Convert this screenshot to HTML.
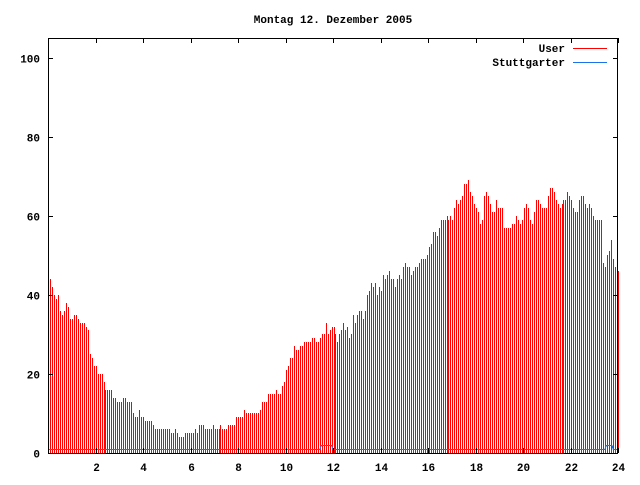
<!DOCTYPE html>
<html><head><meta charset="utf-8"><style>
html,body{margin:0;padding:0;background:#fff;}
svg text{font-family:"Liberation Mono","DejaVu Sans Mono",monospace;font-size:11px;font-weight:bold;fill:#000;}
</style></head><body>
<svg id="chart" width="640" height="480" xmlns="http://www.w3.org/2000/svg" shape-rendering="crispEdges">
<rect width="640" height="480" fill="#fff"/>
<text x="333" y="23" text-anchor="middle">Montag 12. Dezember 2005</text>
<g id="bars"></g>
<polyline id="stutt" fill="none" stroke="#1a73e8" stroke-width="1"/>
<rect x="48.5" y="38.5" width="569" height="415" fill="none" stroke="#000"/>
<g id="yticks"></g>
<g id="xticks"></g>
<g>
<text x="565" y="52" text-anchor="end">User</text>
<line x1="573" y1="48.5" x2="607" y2="48.5" stroke="#f00"/>
<text x="565" y="66" text-anchor="end">Stuttgarter</text>
<line x1="573" y1="62.5" x2="607" y2="62.5" stroke="#1a73e8"/>
</g>
</svg>
<script>
const userValues = [
44,42,40,39,40,36,35,36,38,37,34,34,35,35,34,33,33,33,32,31,
25,24,22,22,20,20,20,18,16,16,16,16,14,14,13,13,13,14,14,13,13,13,
10,9,9,11,9,9,8,8,8,8,7,
6,6,6,6,6,6,6,6,5,5,6,5,4,4,4,5,5,5,5,5,6,5,7,7,7,6,6,6,6,7,6,6,6,7,
6,6,6,7,7,7,7,9,9,9,9,11,10,10,10,10,10,10,10,11,13,13,13,15,15,15,15,16,15,15,17,18,21,22,24,24,27,26,26,27,27,28,28,28,28,29,29,28,28,29,30,30,33,30,31,32,32,30,28,
30,31,33,31,32,29,30,35,33,35,36,36,34,36,40,41,43,42,43,40,42,41,45,44,45,46,44,44,42,44,45,44,47,48,47,47,45,46,47,47,48,49,
49,49,50,52,53,56,56,55,57,59,
59,59,60,59,60,59,62,64,63,64,
65,68,68,69,66,65,63,62,61,58,
59,65,66,65,63,61,61,64,62,62,
62,57,57,57,57,58,58,60,59,58,
59,62,63,62,59,58,61,64,64,63,
62,62,62,65,67,67,66,64,63,62,
63,64,64,66,65,64,62,61,61,64,
65,65,63,62,63,62,60,59,59,59,
59,48,47,50,51,54,49,47,46,46
];
const stuttHours = [0, 11.45, 11.5, 11.95, 12.0, 23.45, 23.5, 23.75, 23.8, 24];
const stuttValues = [1, 1, 2, 2, 1, 1, 2, 2, 1, 1];
const yTickValues = [0, 20, 40, 60, 80, 100];
const xTickValues = [2, 4, 6, 8, 10, 12, 14, 16, 18, 20, 22, 24];

const X0 = 48, X1 = 618, Y0 = 453, Y1 = 38, XMAX = 24, YMAX = 105;
const xs = h => X0 + (X1 - X0) * h / XMAX;
const xb = h => X0 + (X1 + 1 - X0) * h / XMAX;
const ys = v => Y0 - (Y0 - Y1) * v / YMAX;
const NS = "http://www.w3.org/2000/svg";

const bars = document.getElementById('bars');
userValues.forEach((v, i) => {
  const x = Math.min(X1, Math.round(xb((i + 1) / 12)));
  const top = Math.round(ys(v));
  const r = document.createElementNS(NS, 'rect');
  
  
  r.setAttribute('x', x);
  r.setAttribute('y', top);
  r.setAttribute('width', 1);
  r.setAttribute('height', Y0 - top);
  r.setAttribute('fill', '#f00');
  bars.appendChild(r);
});

document.getElementById('stutt').setAttribute('points',
  stuttHours.map((h, i) => xs(h) + ',' + (Math.round(ys(stuttValues[i])) + 0.5)).join(' '));

const yg = document.getElementById('yticks');
yTickValues.forEach(v => {
  const y = Math.round(ys(v)) + 0.5;
  [[X0, X0 + 5], [X1 - 5, X1]].forEach(([a, b]) => {
    const l = document.createElementNS(NS, 'line');
    
    
    l.setAttribute('x1', a); l.setAttribute('x2', b);
    l.setAttribute('y1', y); l.setAttribute('y2', y);
    l.setAttribute('stroke', '#000');
    yg.appendChild(l);
  });
  const t = document.createElementNS(NS, 'text');
  
  
  t.setAttribute('x', 40); t.setAttribute('y', y + 4);
  t.setAttribute('text-anchor', 'end');
  t.textContent = v;
  yg.appendChild(t);
});

const xg = document.getElementById('xticks');
xTickValues.forEach(h => {
  const x = Math.round(xs(h)) + 0.5;
  [[Y0 - 5, Y0], [Y1, Y1 + 5]].forEach(([a, b]) => {
    const l = document.createElementNS(NS, 'line');
    
    
    l.setAttribute('x1', x); l.setAttribute('x2', x);
    l.setAttribute('y1', a); l.setAttribute('y2', b);
    l.setAttribute('stroke', '#000');
    xg.appendChild(l);
  });
  const t = document.createElementNS(NS, 'text');
  
  
  t.setAttribute('x', x); t.setAttribute('y', 471);
  t.setAttribute('text-anchor', 'middle');
  t.textContent = h;
  xg.appendChild(t);
});
</script>
</body></html>
